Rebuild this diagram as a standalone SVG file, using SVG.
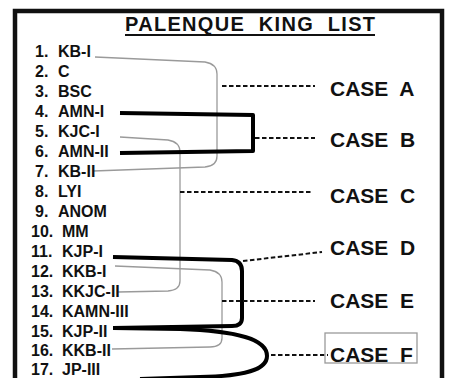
<svg xmlns="http://www.w3.org/2000/svg" width="449" height="378" viewBox="0 0 449 378">
<style>
.num{font-family:"Liberation Sans",Arial,sans-serif;font-weight:bold;font-size:16px;fill:#111}
.case{font-family:"Liberation Sans",Arial,sans-serif;font-weight:bold;font-size:21px;fill:#111;white-space:pre}
.title{font-family:"Liberation Sans",Arial,sans-serif;font-weight:bold;font-size:20px;fill:#111;white-space:pre}
.thin{fill:none;stroke:#9a9a9a;stroke-width:1.3}
.thick{fill:none;stroke:#000;stroke-width:4;stroke-linejoin:round}
.dash{fill:none;stroke:#111;stroke-width:2;stroke-dasharray:4.5 2.5}
</style>
<rect x="0" y="0" width="449" height="378" fill="#fff"/>
<rect id="frame" x="15" y="11" width="427" height="380" fill="#fff" stroke="#111" stroke-width="4.5"/>
<g id="title">
<text class="title" x="125" y="31" textLength="250" xml:space="preserve">PALENQUE  KING  LIST</text>
<line x1="125" y1="35" x2="375" y2="35" stroke="#111" stroke-width="2"/>
</g>
<g id="connectors">
<path class="thin" d="M95,57 L205,62 Q217,64 217,74 L217,156 Q217,166 205,167 L93,171"/>
<path class="thin" d="M120,137 L168,140 Q180,142 180,152 L180,281 Q180,290 168,291 L118,292"/>
<path class="thin" d="M115,266 L210,270 Q222,272 222,282 L222,338 Q222,347 210,347 L112,349"/>
<path class="thick" d="M120,113 L253,115 L253,151 L120,153"/>
<path class="thick" d="M113,257 L232,260 Q242,261 242,271 L242,318 Q242,326 232,326 L113,328"/>
<path class="thick" d="M113,328 L180,329 C240,331 267,340 267,356 C267,370 245,376 200,377 L140,379"/>
<path class="dash" d="M222,86 L315,86"/>
<path class="dash" d="M255,138 L315,138"/>
<path class="dash" d="M180,192 L312,192"/>
<path class="dash" d="M243,261 L322,252"/>
<path class="dash" d="M222,301 L315,301"/>
<path class="dash" d="M271,355 L328,355"/>
</g>
<g id="king1"><text class="num" y="57"><tspan x="35">1.</tspan><tspan x="58">KB-I</tspan></text></g>
<g id="king2"><text class="num" y="77"><tspan x="35">2.</tspan><tspan x="58">C</tspan></text></g>
<g id="king3"><text class="num" y="97"><tspan x="35">3.</tspan><tspan x="58">BSC</tspan></text></g>
<g id="king4"><text class="num" y="117"><tspan x="35">4.</tspan><tspan x="58">AMN-I</tspan></text></g>
<g id="king5"><text class="num" y="137"><tspan x="35">5.</tspan><tspan x="58">KJC-I</tspan></text></g>
<g id="king6"><text class="num" y="157"><tspan x="35">6.</tspan><tspan x="58">AMN-II</tspan></text></g>
<g id="king7"><text class="num" y="177"><tspan x="35">7.</tspan><tspan x="58">KB-II</tspan></text></g>
<g id="king8"><text class="num" y="197"><tspan x="35">8.</tspan><tspan x="58">LYI</tspan></text></g>
<g id="king9"><text class="num" y="217"><tspan x="35">9.</tspan><tspan x="58">ANOM</tspan></text></g>
<g id="king10"><text class="num" y="237"><tspan x="31">10.</tspan><tspan x="62">MM</tspan></text></g>
<g id="king11"><text class="num" y="257"><tspan x="31">11.</tspan><tspan x="62">KJP-I</tspan></text></g>
<g id="king12"><text class="num" y="277"><tspan x="31">12.</tspan><tspan x="62">KKB-I</tspan></text></g>
<g id="king13"><text class="num" y="297"><tspan x="31">13.</tspan><tspan x="62">KKJC-II</tspan></text></g>
<g id="king14"><text class="num" y="317"><tspan x="31">14.</tspan><tspan x="62">KAMN-III</tspan></text></g>
<g id="king15"><text class="num" y="337"><tspan x="31">15.</tspan><tspan x="62">KJP-II</tspan></text></g>
<g id="king16"><text class="num" y="356"><tspan x="31">16.</tspan><tspan x="62">KKB-II</tspan></text></g>
<g id="king17"><text class="num" y="375"><tspan x="31">17.</tspan><tspan x="62">JP-III</tspan></text></g>
<g id="caseA"><text class="case" x="330" y="96" xml:space="preserve">CASE  A</text></g>
<g id="caseB"><text class="case" x="330" y="147" xml:space="preserve">CASE  B</text></g>
<g id="caseC"><text class="case" x="330" y="203" xml:space="preserve">CASE  C</text></g>
<g id="caseD"><text class="case" x="330" y="255" xml:space="preserve">CASE  D</text></g>
<g id="caseE"><text class="case" x="330" y="308" xml:space="preserve">CASE  E</text></g>
<g id="caseF"><rect x="325" y="333" width="92" height="30" fill="none" stroke="#9a9a9a" stroke-width="1.3"/><text class="case" x="330" y="362" xml:space="preserve">CASE  F</text></g>
</svg>
